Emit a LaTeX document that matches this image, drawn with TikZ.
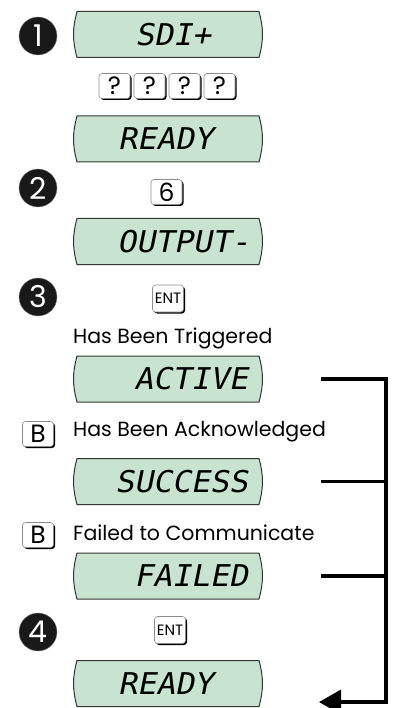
\documentclass[tikz,border=0pt]{standalone}
\usepackage{fontspec}
\setmainfont{Poppins}
\newfontfamily\lcdfont[FakeSlant=0.2,FakeStretch=1.05]{DejaVu Sans Mono}
\usetikzlibrary{arrows.meta,shadows}
\definecolor{lcdgreen}{RGB}{200,228,208}
\tikzset{
  lcd/.style={minimum width=192, minimum height=49, inner sep=0pt,
    path picture={
      \draw[fill=lcdgreen, draw=black!80, line width=1pt]
        ([xshift=5,yshift=-1.5]path picture bounding box.north west) --
        ([xshift=-5,yshift=-1.5]path picture bounding box.north east) to[bend left=15]
        ([xshift=-5,yshift=1.5]path picture bounding box.south east) --
        ([xshift=5,yshift=1.5]path picture bounding box.south west) to[bend left=15] cycle;}},
  lcdtext/.style={anchor=west, inner sep=0pt, font=\lcdfont\fontsize{30}{30}\selectfont},
  lcdright/.style={lcdtext, anchor=east},
  bullet/.style={circle, fill=black!90, draw=black!50, line width=0.4pt, minimum size=38, inner sep=0pt,
    text=white, font=\fontsize{30}{30}\selectfont},
  keycap/.style={draw=black!45, fill=white, rounded corners=3pt, line width=0.6pt, minimum width=31,
    minimum height=25, inner sep=0pt, general shadow={shadow xshift=1.5pt, shadow yshift=-1.5pt, fill=black},
    font=\fontsize{25}{25}\selectfont},
  entkey/.style={keycap, minimum height=27, font=\fontsize{15}{15}\selectfont},
  note/.style={anchor=west, inner sep=0pt, font=\fontsize{20.5}{20.5}\selectfont},
  bus/.style={line width=3.6pt},
}
\begin{document}
\begin{tikzpicture}[x=1pt,y=1pt,yscale=-1,xscale=1]
	\useasboundingbox (0,0) rectangle (393,708);
	\node[bullet] (n1) at (38,36) {1};
	\node[lcd] (sdi) at (168,34.5) {};
	\node[lcdtext] (sdi-t) at (135,34.5) {SDI+};
	\node[keycap] (q1) at (114.5,86) {?};
	\node[keycap] (q2) at (149.5,86) {?};
	\node[keycap] (q3) at (184.5,86) {?};
	\node[keycap] (q4) at (219.5,86) {?};
	\node[lcd] (rdy) at (168,139) {};
	\node[lcdtext] (rdy-t) at (118,139) {READY};
	\node[bullet] (n2) at (38,188) {2};
	\node[keycap] (k6) at (166.5,192) {6};
	\node[lcd] (out) at (168,241.5) {};
	\node[lcdright] (out-t) at (250,241.5) {OUTPUT-};
	\node[bullet] (n3) at (38,297) {3};
	\node[entkey] (ent1) at (168,298.5) {ENT};
	\node[note] (trig) at (73,338) {Has Been Triggered};
	\node[lcd] (act) at (168,379) {};
	\node[lcdright] (act-t) at (248,379) {ACTIVE};
	\node[keycap] (b1) at (38,434) {B};
	\node[note] (ack) at (73,432) {Has Been Acknowledged};
	\node[lcd] (suc) at (168,481.5) {};
	\node[lcdright] (suc-t) at (248,481.5) {SUCCESS};
	\node[keycap] (b2) at (38,535) {B};
	\node[note] (fail) at (73,533) {Failed to Communicate};
	\node[lcd] (fld) at (168,576) {};
	\node[lcdright] (fld-t) at (248,576) {FAILED};
	\node[bullet] (n4) at (38,632) {4};
	\node[entkey] (ent2) at (170,630) {ENT};
	\node[lcd] (rdy2) at (168,683.5) {};
	\node[lcdtext] (rdy2-t) at (118,683.5) {READY};
	\coordinate (railtop) at (386,379);
	\coordinate (railbot) at (386,702);
	\coordinate (back) at (319,702);
	\draw[bus, -{Triangle[length=22pt,width=24pt]}] ([xshift=57]act.east) -- (railtop) -- (railbot) -- (back);
	\draw[bus] ([xshift=57]suc.east) -- (suc.east -| railtop);
	\draw[bus] ([xshift=57]fld.east) -- (fld.east -| railtop);
\end{tikzpicture}
\end{document}
